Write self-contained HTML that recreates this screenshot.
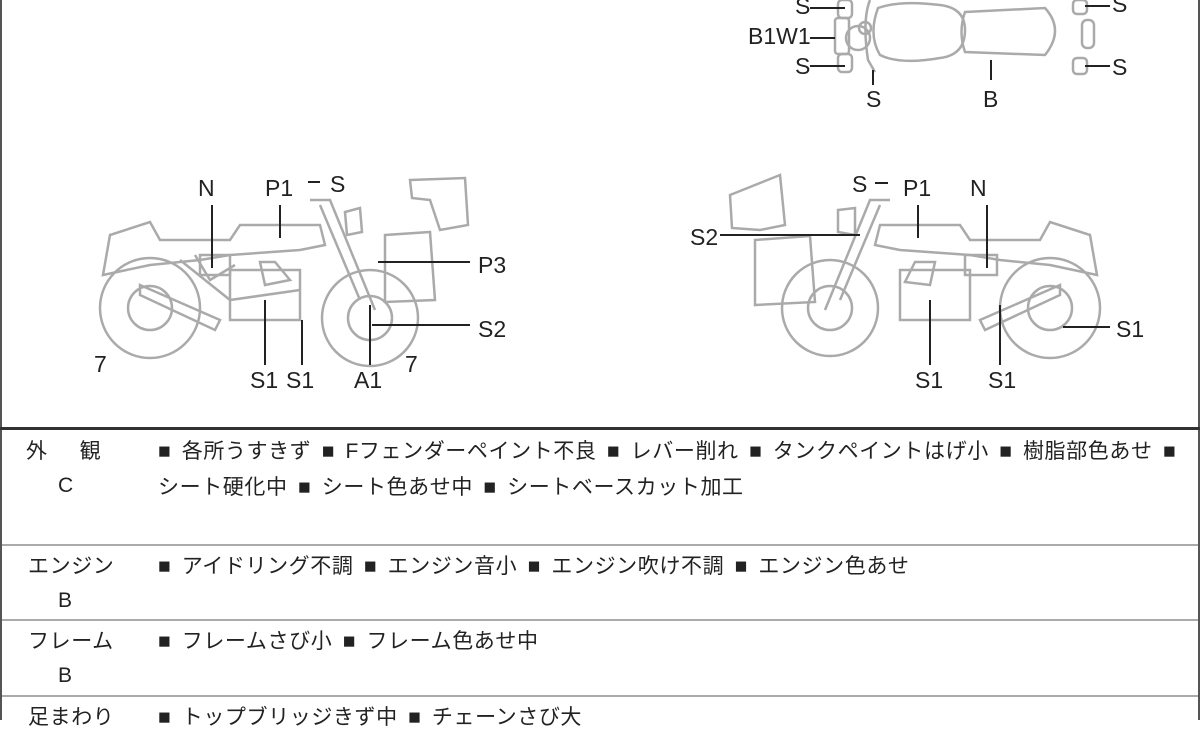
<!DOCTYPE html>
<html><head><meta charset="utf-8">
<style>
body{margin:0;width:1200px;height:720px;overflow:hidden;background:#fff;font-family:"Liberation Sans","Noto Sans CJK JP",sans-serif;color:#222;position:relative}
.t{position:absolute;font-size:21px;white-space:nowrap;line-height:24px;letter-spacing:0.6px;word-spacing:4px}
.hl{position:absolute;left:2px;width:1196px;height:0;border-top:2px solid #aaa}
</style></head><body>
<svg width="1200" height="430" style="position:absolute;left:0;top:0" font-family="Liberation Sans,sans-serif" font-size="23" fill="#222">
<g fill="none" stroke="#aaa" stroke-width="2.5">
 <rect x="838" y="0" width="14" height="18" rx="4"/><rect x="838" y="54" width="14" height="18" rx="4"/>
 <rect x="835" y="18" width="14" height="36" rx="3"/>
 <circle cx="858" cy="38" r="12"/><circle cx="865" cy="28" r="6"/>
 <path d="M870 0 Q862 20 868 60 L875 72"/>
 <path d="M878 8 Q900 0 940 5 Q965 8 965 30 Q965 55 940 58 Q900 65 880 55 Q868 35 878 8Z"/>
 <path d="M965 12 L1045 8 Q1065 30 1045 55 L965 52 Q958 32 965 12Z"/>
 <rect x="1073" y="0" width="14" height="14" rx="4"/><rect x="1073" y="58" width="14" height="16" rx="4"/>
 <rect x="1082" y="20" width="12" height="28" rx="5"/>
 <circle cx="150" cy="308" r="50"/><circle cx="150" cy="308" r="22"/>
 <circle cx="370" cy="318" r="48"/><circle cx="370" cy="318" r="22"/>
 <path d="M103 275 L110 235 L150 222 L160 240 L230 240 L240 225 L320 225 L325 245 L300 250 L230 255 L200 260 L150 265Z"/>
 <path d="M140 285 L140 295 L215 330 L220 320Z"/>
 <path d="M195 255 L210 280 L235 265 M180 260 L230 300 L300 290"/>
 <path d="M230 270 L300 270 L300 320 L230 320Z"/><path d="M260 262 L275 262 L290 280 L265 285Z"/>
 <path d="M310 200 L330 200 L375 310 M320 205 L360 300" />
 <path d="M345 212 L360 208 L362 232 L347 235Z"/>
 <path d="M385 235 L430 232 L435 300 L385 302Z"/>
 <path d="M410 180 L465 178 L468 225 L440 230 L430 200 L412 198Z"/>
 <rect x="200" y="255" width="30" height="20"/>
 <circle cx="830" cy="308" r="48"/><circle cx="830" cy="308" r="22"/>
 <circle cx="1050" cy="308" r="50"/><circle cx="1050" cy="308" r="22"/>
 <path d="M1097 275 L1090 235 L1050 222 L1040 240 L970 240 L960 225 L880 225 L875 245 L900 250 L970 255 L1000 260 L1050 265Z"/>
 <path d="M1060 285 L1060 295 L985 330 L980 320Z"/>
 <path d="M900 270 L970 270 L970 320 L900 320Z"/><path d="M915 262 L935 262 L930 285 L905 282Z"/>
 <path d="M890 200 L870 200 L825 310 M880 205 L840 300"/>
 <path d="M838 210 L855 208 L855 235 L838 232Z"/>
 <path d="M755 240 L810 236 L815 302 L755 305Z"/>
 <path d="M730 195 L780 175 L785 225 L760 230 L732 228Z"/>
 <rect x="965" y="255" width="32" height="20"/>
</g>
<g stroke="#222" stroke-width="2" fill="none">
 <path d="M810 8 H845 M810 38 H835 M810 66 H845 M873 70 V85 M991 60 V80 M1085 6 H1110 M1085 66 H1110"/>
 <path d="M212 205 V268 M280 205 V238 M308 182 H320 M378 262 H470 M372 325 H470 M265 300 V365 M302 320 V365 M370 305 V365"/>
 <path d="M720 235 H860 M875 183 H888 M918 205 V238 M987 205 V268 M1063 327 H1110 M930 300 V365 M1000 305 V365"/>
</g>
<g>
 <text x="795" y="14">S</text><text x="748" y="44">B1W1</text><text x="795" y="74">S</text>
 <text x="866" y="107">S</text><text x="983" y="107">B</text>
 <text x="1112" y="12">S</text><text x="1112" y="75">S</text>
 <text x="198" y="196">N</text><text x="265" y="196">P1</text><text x="330" y="192">S</text>
 <text x="478" y="273">P3</text><text x="478" y="337">S2</text>
 <text x="94" y="372">7</text><text x="405" y="372">7</text>
 <text x="250" y="388">S1</text><text x="286" y="388">S1</text><text x="354" y="388">A1</text>
 <text x="852" y="192">S</text><text x="903" y="196">P1</text><text x="970" y="196">N</text>
 <text x="690" y="245">S2</text><text x="1116" y="337">S1</text>
 <text x="915" y="388">S1</text><text x="988" y="388">S1</text>
</g>
</svg>
<div style="position:absolute;left:0;top:0;width:2px;height:720px;background:#555"></div>
<div style="position:absolute;right:0;top:0;width:2px;height:720px;background:#555"></div>
<div style="position:absolute;left:0;top:427px;width:1200px;height:3px;background:#333"></div>
<div class="hl" style="top:544px"></div>
<div class="hl" style="top:619px"></div>
<div class="hl" style="top:695px"></div>
<div class="t" style="left:26px;top:440px">外　 観</div>
<div class="t" style="left:58px;top:474px">C</div>
<div class="t" style="left:158px;top:440px">■ 各所うすきず ■ Fフェンダーペイント不良 ■ レバー削れ ■ タンクペイントはげ小 ■ 樹脂部色あせ ■</div>
<div class="t" style="left:158px;top:476px">シート硬化中 ■ シート色あせ中 ■ シートベースカット加工</div>
<div class="t" style="left:28px;top:555px">エンジン</div>
<div class="t" style="left:58px;top:589px">B</div>
<div class="t" style="left:158px;top:555px">■ アイドリング不調 ■ エンジン音小 ■ エンジン吹け不調 ■ エンジン色あせ</div>
<div class="t" style="left:28px;top:630px">フレーム</div>
<div class="t" style="left:58px;top:664px">B</div>
<div class="t" style="left:158px;top:630px">■ フレームさび小 ■ フレーム色あせ中</div>
<div class="t" style="left:28px;top:706px">足まわり</div>
<div class="t" style="left:158px;top:706px">■ トップブリッジきず中 ■ チェーンさび大</div>
</body></html>
